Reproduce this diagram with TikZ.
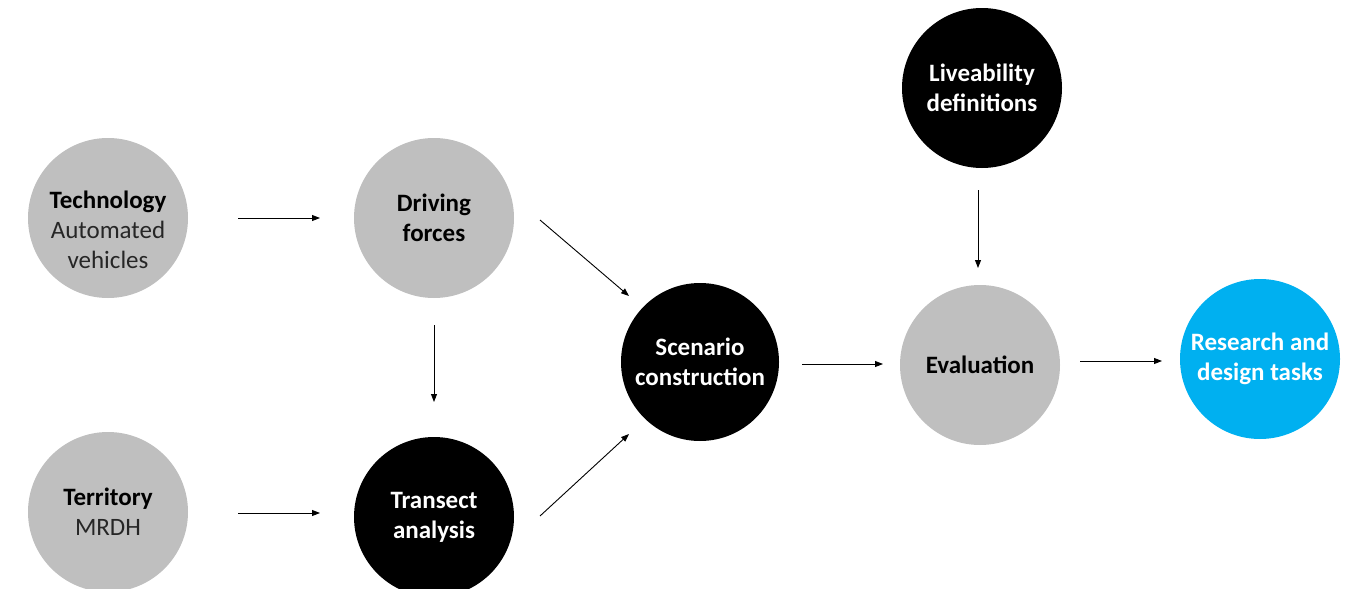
\documentclass[tikz,border=0pt]{standalone}
\usepackage{fontspec}
\setmainfont{Carlito}
\usetikzlibrary{arrows.meta}
\definecolor{cgray}{HTML}{BFBFBF}
\definecolor{cblue}{HTML}{00B0F0}
\definecolor{ctext}{HTML}{262626}
\tikzset{
  circ/.style={circle, minimum size=160pt, inner sep=0pt, align=center, font=\fontsize{25}{30}\selectfont},
  grayc/.style={circ, fill=cgray, text=black},
  blackc/.style={circ, fill=black, text=white, font=\fontsize{25}{30}\selectfont\bfseries},
  bluec/.style={circ, fill=cblue, text=white, font=\fontsize{25}{30}\selectfont\bfseries},
  txt/.style={align=center, inner sep=0pt, font=\fontsize{25}{30}\selectfont},
  arr/.style={-{Triangle[length=8pt,width=6pt]}, line width=0.9pt, black},
}
\begin{document}
\begin{tikzpicture}[x=1pt,y=-1pt]
\useasboundingbox (0,0) rectangle (1358,589);
\node[grayc] (tech) at (108,218) {};
\node[txt] (techtxt) at (108,230) {\textbf{Technology}\\{\color{ctext}Automated}\\{\color{ctext}vehicles}};
\node[grayc] (terr) at (108,512) {\textbf{Territory}\\{\color{ctext}MRDH}};
\node[grayc] (drive) at (434,218) {\textbf{Driving}\\\textbf{forces}};
\node[blackc] (trans) at (434,517) {Transect\\analysis};
\node[blackc, minimum size=158pt] (scen) at (700,362) {Scenario\\construction};
\node[blackc] (live) at (982,88) {Liveability\\definitions};
\node[grayc] (eval) at (980,365) {\textbf{Evaluation}};
\node[bluec] (res) at (1260,359) {Research and\\design tasks};

\coordinate (a1s) at (238,218); \coordinate (a1e) at (320,218);
\coordinate (a2s) at (238,513); \coordinate (a2e) at (320,513);
\coordinate (a3s) at (434,325); \coordinate (a3e) at (434,402);
\coordinate (a4s) at (540,220); \coordinate (a4e) at (629,296);
\coordinate (a5s) at (540,516); \coordinate (a5e) at (629,434);
\coordinate (a6s) at (802,364); \coordinate (a6e) at (883,364);
\coordinate (a7s) at (978,190); \coordinate (a7e) at (978,268);
\coordinate (a8s) at (1080,361); \coordinate (a8e) at (1162,361);
\draw[arr] (a1s) -- (a1e);
\draw[arr] (a2s) -- (a2e);
\draw[arr] (a3s) -- (a3e);
\draw[arr] (a4s) -- (a4e);
\draw[arr] (a5s) -- (a5e);
\draw[arr] (a6s) -- (a6e);
\draw[arr] (a7s) -- (a7e);
\draw[arr] (a8s) -- (a8e);
\end{tikzpicture}
\end{document}
